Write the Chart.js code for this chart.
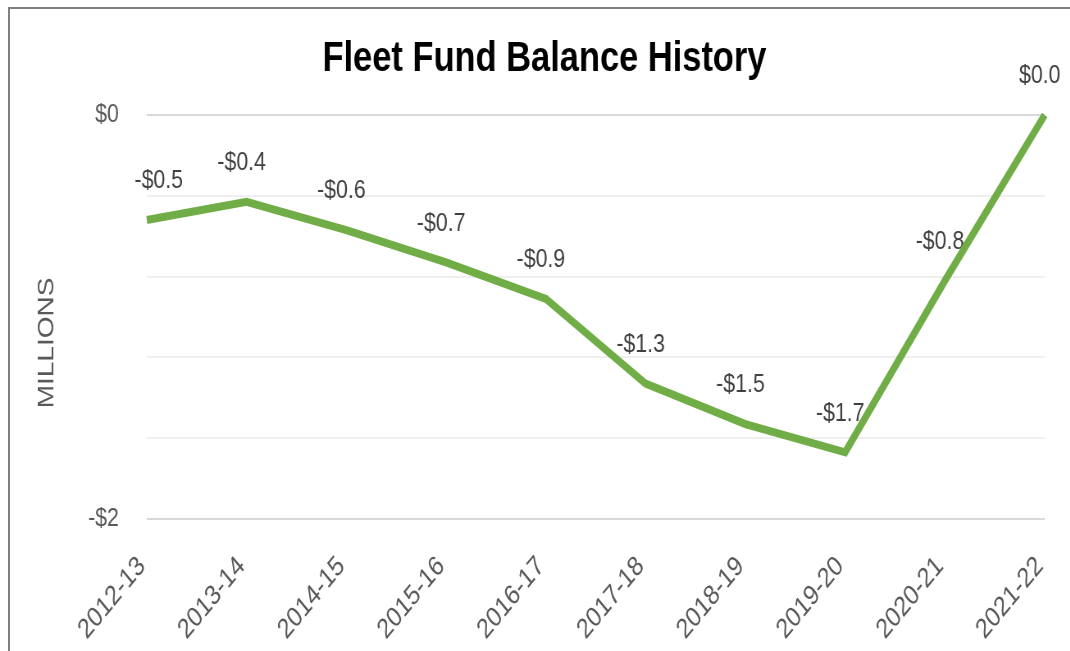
<!DOCTYPE html>
<html>
<head>
<meta charset="utf-8">
<script src="https://cdn.jsdelivr.net/npm/chart.js@4/dist/chart.umd.min.js"></script>
<style>
  html, body { margin: 0; padding: 0; background: #fff; overflow: hidden; }
  #page { position: relative; width: 1070px; height: 651px; overflow: hidden; }
  #frame { position: absolute; left: 8px; top: 7px; width: 1100px; height: 700px; border: 2px solid #7f7f7f; box-sizing: border-box; }
  /* chart is laid out wide and then narrowed, which gives the tall condensed lettering */
  #squeeze { position: absolute; left: 0; top: 0; width: 1305px; height: 651px; transform: scaleX(0.82); transform-origin: 0 0; }
</style>
</head>
<body>
<div id="page">
  <div id="frame"></div>
  <div id="squeeze"><canvas id="fundChart" width="1305" height="651"></canvas></div>
</div>
<script>
// fiscal years and year-end fund balance ($ millions)
const years = ["2012-13","2013-14","2014-15","2015-16","2016-17","2017-18","2018-19","2019-20","2020-21","2021-22"];
const balance = [-0.52, -0.43, -0.57, -0.73, -0.91, -1.33, -1.53, -1.67, -0.82, 0.0];
const yTicks = [0, -2];

const FONT = "'Liberation Sans', Arial, sans-serif";
const GREY = "#595959";

function money(v){
  return (v < 0 ? "-" : "") + "$" + Math.abs(v).toFixed(1);
}

// value labels above each point (drawn under the line)
const pointLabels = {
  id: "pointLabels",
  beforeDatasetsDraw(chart){
    const ctx = chart.ctx;
    const meta = chart.getDatasetMeta(0);
    const area = chart.chartArea;
    ctx.save();
    ctx.font = "26px " + FONT;
    ctx.fillStyle = "#404040";
    ctx.textAlign = "center";
    ctx.textBaseline = "middle";
    meta.data.forEach((pt, i) => {
      const txt = money(balance[i]);
      const w = ctx.measureText(txt).width;
      let x = pt.x - 6;
      if (x - w / 2 < area.left - 15) x = area.left - 15 + w / 2;
      ctx.fillText(txt, x, pt.y - 39);
    });
    ctx.restore();
  }
};

// vertical "MILLIONS" caption, sitting a little below the middle of the plot
const unitCaption = {
  id: "unitCaption",
  afterDraw(chart){
    const ctx = chart.ctx;
    const area = chart.chartArea;
    ctx.save();
    ctx.translate(area.left - 122, (area.top + area.bottom) / 2 + 26);
    ctx.rotate(-Math.PI / 2);
    ctx.font = "28px " + FONT;
    ctx.fillStyle = GREY;
    ctx.textAlign = "center";
    ctx.textBaseline = "middle";
    ctx.fillText("MILLIONS", 0, 0);
    ctx.restore();
  }
};

new Chart(document.getElementById("fundChart"), {
  type: "line",
  data: {
    labels: years,
    datasets: [{
      data: balance,
      borderColor: "#70AD47",
      borderWidth: 8,
      pointRadius: 0,
      tension: 0,
      clip: 10
    }]
  },
  options: {
    responsive: false,
    animation: false,
    devicePixelRatio: 1,
    layout: { padding: { left: 54, right: 31, top: 0, bottom: 0 } },
    plugins: {
      legend: { display: false },
      tooltip: { enabled: false },
      title: {
        display: true,
        text: "Fleet Fund Balance History",
        color: "#000",
        font: { family: FONT, size: 42, weight: "bold" },
        padding: { top: 34, bottom: 30.6 }
      }
    },
    scales: {
      x: {
        offset: false,
        grid: { display: false, drawTicks: false },
        border: { display: false },
        ticks: {
          color: GREY, font: { family: FONT, size: 28 },
          maxRotation: 45, minRotation: 45, padding: 31, labelOffset: -6, autoSkip: false
        },
        afterFit(axis){
          axis.height = 132;
          axis.paddingLeft = 0;
          axis.paddingRight = 0;
        }
      },
      y: {
        min: -2, max: 0,
        border: { display: false },
        grid: {
          drawTicks: false, lineWidth: 2,
          color: c => (yTicks.some(t => Math.abs(c.tick.value - t) < 1e-6) ? "#d9d9d9" : "#efefef")
        },
        ticks: {
          stepSize: 0.4, padding: 34, color: GREY,
          font: { family: FONT, size: 26 },
          callback: v => {
            const t = yTicks.find(t => Math.abs(v - t) < 1e-6);
            if (t === undefined) return "";
            return (t < 0 ? "-" : "") + "$" + Math.abs(t);
          }
        },
        afterFit(axis){ axis.width = 125; }
      }
    }
  },
  plugins: [pointLabels, unitCaption]
});
</script>
</body>
</html>
